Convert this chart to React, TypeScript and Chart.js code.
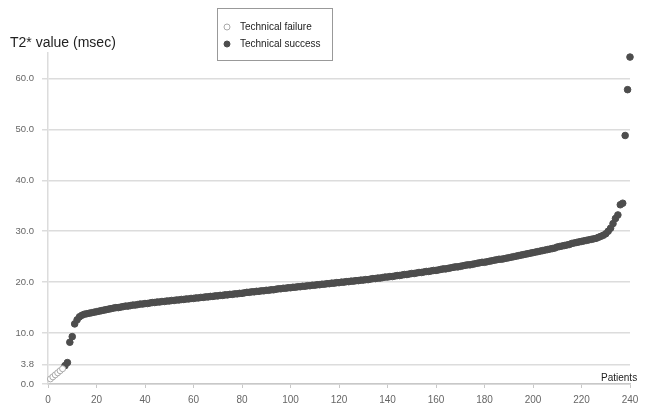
import React, { useEffect, useRef } from "react";
import { Chart, registerables } from "chart.js";

Chart.register(...registerables);

const failurePatients = [1, 2, 3, 4, 5, 6];
const failureValues = [1.0, 1.4, 1.8, 2.2, 2.6, 3.0];

const successValues = [
  3.6, 4.2, 8.2, 9.3,
  11.8, 12.6, 13.2, 13.5, 13.7, 13.8, 13.9, 14.0, 14.1, 14.2,
  14.3, 14.4, 14.5, 14.6, 14.7, 14.8, 14.9, 15.0, 15.0, 15.1,
  15.2, 15.3, 15.3, 15.4, 15.5, 15.5, 15.6, 15.7, 15.7, 15.8,
  15.8, 15.9, 16.0, 16.0, 16.1, 16.1, 16.2, 16.2, 16.3, 16.3,
  16.4, 16.4, 16.5, 16.5, 16.6, 16.6, 16.7, 16.7, 16.8, 16.8,
  16.9, 16.9, 17.0, 17.0, 17.1, 17.1, 17.2, 17.2, 17.3, 17.3,
  17.4, 17.4, 17.5, 17.5, 17.6, 17.6, 17.7, 17.7, 17.8, 17.8,
  17.9, 18.0, 18.0, 18.1, 18.1, 18.2, 18.2, 18.3, 18.3, 18.4,
  18.4, 18.5, 18.5, 18.6, 18.7, 18.7, 18.8, 18.8, 18.9, 18.9,
  19.0, 19.0, 19.1, 19.1, 19.2, 19.2, 19.3, 19.3, 19.4, 19.4,
  19.5, 19.5, 19.6, 19.6, 19.7, 19.7, 19.8, 19.8, 19.9, 19.9,
  20.0, 20.0, 20.1, 20.1, 20.2, 20.2, 20.3, 20.3, 20.4, 20.4,
  20.5, 20.5, 20.6, 20.7, 20.7, 20.8, 20.8, 20.9, 21.0, 21.0,
  21.1, 21.1, 21.2, 21.3, 21.3, 21.4, 21.5, 21.5, 21.6, 21.7,
  21.7, 21.8, 21.9, 21.9, 22.0, 22.1, 22.1, 22.2, 22.3, 22.3,
  22.4, 22.5, 22.6, 22.6, 22.7, 22.8, 22.9, 23.0, 23.0, 23.1,
  23.2, 23.3, 23.4, 23.4, 23.5, 23.6, 23.7, 23.8, 23.9, 23.9,
  24.0, 24.1, 24.2, 24.3, 24.4, 24.5, 24.5, 24.6, 24.7, 24.8,
  24.9, 25.0, 25.1, 25.2, 25.3, 25.4, 25.5, 25.6, 25.7, 25.8,
  25.9, 26.0, 26.1, 26.2, 26.3, 26.4, 26.5, 26.6, 26.7, 26.9,
  27.0, 27.1, 27.2, 27.3, 27.4, 27.6, 27.7, 27.8, 27.9, 28.0,
  28.1, 28.2, 28.3, 28.4, 28.5, 28.6, 28.8, 29.0, 29.2, 29.5,
  30.0, 30.6, 31.5, 32.5, 33.2, 35.2, 35.5, 48.8, 57.8, 64.2,
];
const successStartPatient = 7;

const yTickValues = [0, 3.8, 10, 20, 30, 40, 50, 60];
const xTickStep = 20;
const xMax = 240;
const yMax = 65;

const titleText = "T2* value (msec)";
const xAxisLabel = "Patients";
const legendLabels = ["Technical failure", "Technical success"];

const FONT = "'Liberation Sans', 'DejaVu Sans', sans-serif";

const overlayPlugin = {
  id: "overlay",
  afterDraw(chart: any) {
    const ctx = chart.ctx;
    ctx.save();
    ctx.fillStyle = "#222";
    ctx.font = `14px ${FONT}`;
    ctx.textBaseline = "alphabetic";
    ctx.textAlign = "left";
    ctx.fillText(titleText, 10, 47);
    ctx.strokeStyle = "#999";
    ctx.lineWidth = 1;
    ctx.fillStyle = "#fff";
    ctx.fillRect(217.5, 8.5, 115, 52);
    ctx.strokeRect(217.5, 8.5, 115, 52);
    const ds = chart.data.datasets;
    const rows = [27, 44];
    rows.forEach((y, i) => {
      ctx.beginPath();
      ctx.arc(227, y, 3, 0, Math.PI * 2);
      ctx.fillStyle = ds[i].pointBackgroundColor;
      ctx.fill();
      ctx.strokeStyle = ds[i].pointBorderColor;
      ctx.lineWidth = 1;
      ctx.stroke();
      ctx.fillStyle = "#222";
      ctx.font = `10px ${FONT}`;
      ctx.textBaseline = "middle";
      ctx.fillText(legendLabels[i], 240, y);
    });
    ctx.fillStyle = "#222";
    ctx.font = `10px ${FONT}`;
    ctx.textBaseline = "alphabetic";
    ctx.fillText(xAxisLabel, 601, 381);
    ctx.restore();
  },
};

export default function App() {
  const ref = useRef<HTMLCanvasElement | null>(null);
  useEffect(() => {
    document.body.style.margin = "0";
    const failureData = failureValues.map((v, i) => ({ x: failurePatients[i], y: v }));
    const successData = successValues.map((v, i) => ({ x: successStartPatient + i, y: v }));
    const chart = new Chart(ref.current as HTMLCanvasElement, {
      type: "scatter",
      data: {
        datasets: [
          {
            label: legendLabels[0],
            data: failureData,
            pointBackgroundColor: "#ffffff",
            pointBorderColor: "#aaaaaa",
            pointBorderWidth: 1,
            pointRadius: 3,
          },
          {
            label: legendLabels[1],
            data: successData,
            pointBackgroundColor: "#4d4d4d",
            pointBorderColor: "#4d4d4d",
            pointBorderWidth: 1,
            pointRadius: 3.3,
          },
        ] as any,
      },
      options: {
        animation: false,
        responsive: false,
        clip: false as any,
        layout: { padding: { top: 53, right: 16, left: 0, bottom: 0 } },
        plugins: {
          legend: { display: false },
          tooltip: { enabled: false },
        },
        scales: {
          x: {
            type: "linear",
            min: 0,
            max: xMax,
            afterFit: (s: any) => { s.height = 27; },
            ticks: {
              stepSize: xTickStep,
              color: "#666",
              font: { size: 10, family: FONT },
              padding: 6,
            },
            grid: {
              drawOnChartArea: false,
              drawTicks: true,
              tickLength: 4,
              color: "#c8c8c8",
            },
            border: { color: "#c8c8c8", width: 1.5 },
          },
          y: {
            type: "linear",
            min: 0,
            max: yMax,
            afterFit: (s: any) => { s.width = 48; },
            afterBuildTicks: (s: any) => {
              s.ticks = yTickValues.map((v) => ({ value: v }));
            },
            ticks: {
              color: "#666",
              font: { size: 9.5, family: FONT },
              padding: 8,
              callback: (v: any) => Number(v).toFixed(1),
            },
            grid: {
              color: "#dcdcdc",
              lineWidth: 1.5,
              drawTicks: true,
              tickLength: 6,
            },
            border: { color: "#dcdcdc", width: 1.5 },
          },
        },
      },
      plugins: [overlayPlugin],
    });
    return () => chart.destroy();
  }, []);
  return (
    <div style={{ width: 646, height: 411, background: "#fff" }}>
      <canvas ref={ref} width={646} height={411} />
    </div>
  );
}
